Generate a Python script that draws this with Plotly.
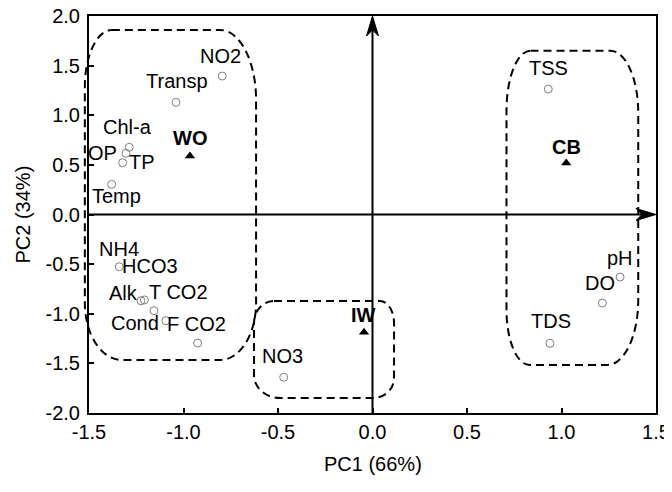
import plotly.graph_objects as go

# ---------------- data ----------------
var_names = ["NO2", "Transp", "Chl-a", "OP", "TP", "Temp",
             "NH4", "HCO3", "Alk", "T CO2", "Cond", "F CO2",
             "NO3", "TSS", "pH", "DO", "TDS"]
var_pc1 = [-0.795, -1.040, -1.287, -1.304, -1.322, -1.380,
           -1.340, -1.225, -1.207, -1.156, -1.093, -0.925,
           -0.470, 0.930, 1.310, 1.216, 0.939]
var_pc2 = [1.395, 1.130, 0.677, 0.617, 0.522, 0.304,
           -0.526, -0.869, -0.861, -0.969, -1.070, -1.295,
           -1.640, 1.264, -0.630, -0.892, -1.298]

site_names = ["WO", "IW", "CB"]
site_pc1 = [-0.966, -0.045, 1.025]
site_pc2 = [0.589, -1.187, 0.519]

x_ticks = [-1.5, -1.0, -0.5, 0.0, 0.5, 1.0, 1.5]
y_ticks = [-2.0, -1.5, -1.0, -0.5, 0.0, 0.5, 1.0, 1.5, 2.0]

x_title = "PC1 (66%)"
y_title = "PC2 (34%)"

# ---------------- styling / layout helpers ----------------
X_RANGE = (-1.5, 1.5)
Y_RANGE = (-2.0, 2.0)
BODY = 8                      # default page body margin
W, H = 672 - BODY, 492 - BODY
ML, MR, MT, MB = 89 - BODY, 16, 16 - BODY, 79
PW, PH = W - ML - MR, H - MT - MB
FONT = "Liberation Sans, Arial, sans-serif"
FS = 20

# label offsets (pixels) relative to their points
var_label_shift = [(-2, 20), (1, 21), (-2, 20), (-24, 0), (19, 1), (5, -12),
                   (0, 18), (9, 35), (-21, 7), (24, 19), (-31, -2), (-1, 19),
                   (-1, 21), (0, 21), (0, 19), (-2, 20), (1, 22)]
site_label_shift = [(0, 18), (-1, 17), (0, 16)]


def to_paper(x, y):
    return ((x - X_RANGE[0]) / (X_RANGE[1] - X_RANGE[0]),
            (y - Y_RANGE[0]) / (Y_RANGE[1] - Y_RANGE[0]))


def px_x(p):
    return p * (X_RANGE[1] - X_RANGE[0]) / PW


def px_y(p):
    return p * (Y_RANGE[1] - Y_RANGE[0]) / PH


def rounded_path(x0, x1, y0, y1, tl, tr, br, bl):
    """tl..bl: corner radii in pixels (rx, ry)."""
    k = 0.5523
    tl = (px_x(tl[0]), px_y(tl[1]))
    tr = (px_x(tr[0]), px_y(tr[1]))
    br = (px_x(br[0]), px_y(br[1]))
    bl = (px_x(bl[0]), px_y(bl[1]))

    def P(x, y):
        a, b = to_paper(x, y)
        return f"{a:.5f},{b:.5f}"

    d = "M" + P(x0 + tl[0], y1)
    d += " L" + P(x1 - tr[0], y1)
    d += " C" + P(x1 - tr[0] + k * tr[0], y1) + " " + P(x1, y1 - tr[1] + k * tr[1]) + " " + P(x1, y1 - tr[1])
    d += " L" + P(x1, y0 + br[1])
    d += " C" + P(x1, y0 + br[1] - k * br[1]) + " " + P(x1 - br[0] + k * br[0], y0) + " " + P(x1 - br[0], y0)
    d += " L" + P(x0 + bl[0], y0)
    d += " C" + P(x0 + bl[0] - k * bl[0], y0) + " " + P(x0, y0 + bl[1] - k * bl[1]) + " " + P(x0, y0 + bl[1])
    d += " L" + P(x0, y1 - tl[1])
    d += " C" + P(x0, y1 - tl[1] + k * tl[1]) + " " + P(x0 + tl[0] - k * tl[0], y1) + " " + P(x0 + tl[0], y1)
    d += " Z"
    return d


groups = [
    dict(x0=-1.522, x1=-0.616, y0=-1.466, y1=1.859, tl=(27, 57), tr=(36, 70), br=(36, 57), bl=(37, 57)),
    dict(x0=-0.627, x1=0.114, y0=-1.849, y1=-0.872, tl=(20, 22), tr=(14, 22), br=(21, 20), bl=(26, 23)),
    dict(x0=0.709, x1=1.406, y0=-1.516, y1=1.650, tl=(24, 60), tr=(28, 62), br=(31, 65), bl=(23, 55)),
]

fig = go.Figure()

fig.add_trace(go.Scatter(
    x=var_pc1, y=var_pc2, mode="markers",
    marker=dict(symbol="circle-open", size=8, color="#7f7f7f", line=dict(width=1, color="#7f7f7f")),
    hoverinfo="text", text=var_names, showlegend=False, cliponaxis=False))

fig.add_trace(go.Scatter(
    x=site_pc1, y=site_pc2, mode="markers",
    marker=dict(symbol="triangle-up", size=9, color="black"),
    hoverinfo="text", text=site_names, showlegend=False, cliponaxis=False))

shapes = []
for g in groups:
    shapes.append(dict(type="path", xref="paper", yref="paper",
                       path=rounded_path(g["x0"], g["x1"], g["y0"], g["y1"], g["tl"], g["tr"], g["br"], g["bl"]),
                       line=dict(color="black", width=2, dash="8px,5px"), layer="above"))

# zero axes lines
shapes.append(dict(type="line", xref="x", yref="y", x0=0, x1=0, y0=Y_RANGE[0], y1=Y_RANGE[1] - px_y(14),
                   line=dict(color="black", width=2)))
shapes.append(dict(type="line", xref="x", yref="y", x0=X_RANGE[0], x1=X_RANGE[1] - px_x(14), y0=0, y1=0,
                   line=dict(color="black", width=2)))


def arrow_path(tipx, tipy, dirx, diry):
    L, Wd, N = 20, 6, 14
    perpx, perpy = -diry, dirx

    def pt(dx, dy):
        a, b = to_paper(tipx + px_x(dx), tipy + px_y(dy))
        return f"{a:.5f},{b:.5f}"
    d = "M" + pt(0, 0)
    d += " L" + pt(-dirx * L + perpx * Wd, -diry * L + perpy * Wd)
    d += " L" + pt(-dirx * N, -diry * N)
    d += " L" + pt(-dirx * L - perpx * Wd, -diry * L - perpy * Wd)
    d += " Z"
    return d


shapes.append(dict(type="path", xref="paper", yref="paper", path=arrow_path(0, Y_RANGE[1], 0, 1),
                   fillcolor="black", line=dict(color="black", width=1)))
shapes.append(dict(type="path", xref="paper", yref="paper", path=arrow_path(X_RANGE[1], 0, 1, 0),
                   fillcolor="black", line=dict(color="black", width=1)))

annotations = []
for n, x, y, (sx, sy) in zip(var_names, var_pc1, var_pc2, var_label_shift):
    annotations.append(dict(x=x, y=y, xref="x", yref="y", text=n, showarrow=False,
                            xanchor="center", yanchor="middle",
                            xshift=sx, yshift=sy, font=dict(family=FONT, size=FS, color="black")))
for n, x, y, (sx, sy) in zip(site_names, site_pc1, site_pc2, site_label_shift):
    annotations.append(dict(x=x, y=y, xref="x", yref="y", text=f"<b>{n}</b>", showarrow=False,
                            xanchor="center", yanchor="middle",
                            xshift=sx, yshift=sy, font=dict(family=FONT, size=FS, color="black")))

# axis titles
annotations.append(dict(x=0.5, y=0, xref="paper", yref="paper", text=x_title, showarrow=False,
                        xanchor="center", yanchor="middle",
                        yshift=-(464 - 413), font=dict(family=FONT, size=FS, color="black")))
annotations.append(dict(x=0, y=0.5, xref="paper", yref="paper", text=y_title, showarrow=False,
                        xanchor="center", yanchor="middle",
                        textangle=-90, xshift=-(89 - 22), font=dict(family=FONT, size=FS, color="black")))

axis_common = dict(showgrid=False, zeroline=False, showline=True, mirror=True, automargin=False,
                   linecolor="black", linewidth=2, ticks="inside", ticklen=5, tickwidth=1.5,
                   tickcolor="black", ticklabeloverflow="allow",
                   tickfont=dict(family=FONT, size=FS, color="black"))

fig.update_layout(
    width=W, height=H,
    margin=dict(l=ML, r=MR, t=MT, b=MB),
    paper_bgcolor="white", plot_bgcolor="white",
    font=dict(family=FONT, size=FS, color="black"),
    shapes=shapes, annotations=annotations,
    xaxis=dict(range=list(X_RANGE), tickvals=x_ticks, ticktext=[f"{v:.1f}" for v in x_ticks], **axis_common),
    yaxis=dict(range=list(Y_RANGE), tickvals=y_ticks, ticktext=[f"{v:.1f}" for v in y_ticks],
               ticklabelstandoff=3, **axis_common),
)

fig.write_html("out.html")
